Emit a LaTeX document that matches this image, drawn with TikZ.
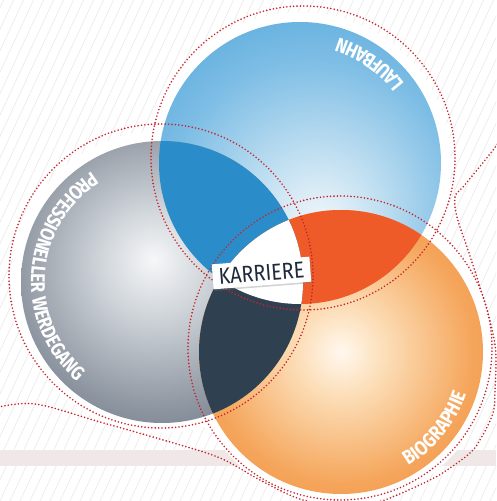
\documentclass[tikz,border=0pt]{standalone}
\usepackage{fontspec}
\usetikzlibrary{decorations.text,shadows,calc}
\newfontfamily\lblfont[FakeStretch=0.85,LetterSpace=4]{Fira Sans}
\newfontfamily\karfont[FakeStretch=0.86]{Fira Sans}
\newcommand\lbl{\lblfont\bfseries\fontsize{20}{20}\selectfont}
\definecolor{bluec}{HTML}{F2F7FA}
\definecolor{bluem}{HTML}{C6E2F2}
\definecolor{bluen}{HTML}{7DBDE5}
\definecolor{bluee}{HTML}{45A1D8}
\definecolor{greyc}{HTML}{F6F7F8}
\definecolor{greym}{HTML}{D2D7DC}
\definecolor{greyn}{HTML}{8E96A1}
\definecolor{greye}{HTML}{4F5765}
\definecolor{orac}{HTML}{FFF8EE}
\definecolor{oram}{HTML}{FCDDB6}
\definecolor{oran}{HTML}{F5A65C}
\definecolor{orae}{HTML}{EB7D2E}
\definecolor{bgov}{HTML}{2A8DCA}
\definecolor{boov}{HTML}{EF5A29}
\definecolor{goov}{HTML}{2F4151}
\definecolor{dotc}{HTML}{C8232C}
\definecolor{stripec}{HTML}{E9E9E9}
\definecolor{bandc}{HTML}{EFE8E6}
\definecolor{karc}{HTML}{1F2A3A}
\pgfdeclareradialshading{blueshade}{\pgfpoint{3.5bp}{-11bp}}{color(0bp)=(bluec); color(10bp)=(bluem); color(26bp)=(bluen); color(44bp)=(bluee); color(80bp)=(bluee)}
\pgfdeclareradialshading{greyshade}{\pgfpoint{-1.5bp}{4bp}}{color(0bp)=(greyc); color(9bp)=(greym); color(25bp)=(greyn); color(44bp)=(greye); color(80bp)=(greye)}
\pgfdeclareradialshading{orashade}{\pgfpoint{0bp}{0bp}}{color(0bp)=(orac); color(8bp)=(oram); color(23bp)=(oran); color(42bp)=(orae); color(80bp)=(orae)}
\tikzset{
  stripe/.style={stripec, line width=0.6pt},
  dots/.style={dotc, line width=1.8pt, line cap=round, dash pattern=on 0pt off 3.4pt},
  arclabel/.style={decorate, decoration={text along path, text align=center, text color=white, text={|\lbl|#1}}},
  karbox/.style={fill=white, inner xsep=6pt, inner ysep=0pt, minimum height=25pt, text=karc,
    font=\karfont\fontsize{23}{23}\selectfont,
    drop shadow={shadow xshift=1pt, shadow yshift=-1.5pt, opacity=0.35}}
}
\begin{document}
\begin{tikzpicture}[x=1pt,y=1pt]
\useasboundingbox (0,0) rectangle (496,501);
\fill[white] (0,0) rectangle (496,501);
\coordinate (B) at (300,338);
\coordinate (G) at (162,219);
\coordinate (O) at (341,149);
% background stripes
\begin{scope}
  \clip (0,0) rectangle (496,501);
  \foreach \i in {-240,-230,...,500} \draw[stripe] (\i,0) -- ++(233.6,501);
  \fill[bandc] (0,35) rectangle (496,51);
\end{scope}
% halos
\fill[white] (B) circle (151pt);
\fill[white] (G) circle (151pt);
\fill[white] (O) circle (152pt);
% main circles
\shade[shading=blueshade] (B) circle (141pt);
\shade[shading=greyshade] (G) circle (141pt);
\shade[shading=orashade] (O) circle (142pt);
% overlaps
\begin{scope}\clip (B) circle (141pt); \fill[bgov] (G) circle (141pt);\end{scope}
\begin{scope}\clip (B) circle (141pt); \fill[boov] (O) circle (142pt);\end{scope}
\begin{scope}\clip (G) circle (141pt); \fill[goov] (O) circle (142pt);\end{scope}
\begin{scope}\clip (B) circle (141pt); \clip (G) circle (141pt); \fill[white] (O) circle (142pt);\end{scope}
% dotted circles
\draw[dots] (303,343) circle (152pt);
\draw[dots] (161,225) circle (152pt);
\draw[dots] (340,153) circle (152pt);
\draw[dots] plot[smooth, tension=0.6] coordinates {(505,368) (493,351) (477,331) (463,314) (455,304) (457,284) (467,254) (480,214) (490,180) (495,156) (496,141) (495,111) (493,88) (480,61) (470,48) (450,33) (430,21) (390,3) (365,-5)};
\draw[dots] plot[smooth, tension=0.6] coordinates {(-5,93) (35,97) (100,79) (170,59) (220,43) (260,21) (297,3) (330,-5)};
% labels
\path[arclabel=LAUFBAHN] ($(B)+(10:131pt)$) arc[start angle=10, end angle=100, radius=131pt];
\path[arclabel=PROFESSIONELLER WERDEGANG] ($(G)+(96:131pt)$) arc[start angle=96, end angle=256, radius=131pt];
\path[arclabel=BIOGRAPHIE] ($(O)+(-84:132pt)$) arc[start angle=-84, end angle=6, radius=132pt];
\node[karbox, rotate=4.5] (kar) at (261.5,228) {KARRIERE};
\end{tikzpicture}
\end{document}
